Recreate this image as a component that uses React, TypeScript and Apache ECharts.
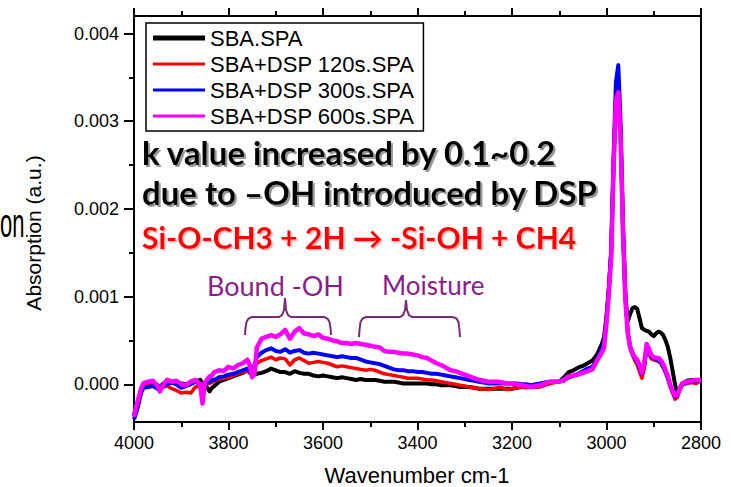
import React, { useEffect, useRef } from 'react';
import * as echarts from 'echarts';

// Wavenumber grid (cm-1) in three stretches
const wnA = [4000, 3995, 3990, 3985, 3980, 3970, 3960, 3950, 3945, 3940, 3930, 3920, 3910, 3900, 3890, 3880, 3870, 3860, 3855, 3850, 3840, 3835, 3830, 3820, 3810, 3800, 3790, 3780, 3770, 3760, 3755, 3750, 3745, 3740, 3730, 3720, 3710, 3700];
const wnB = [3690, 3680, 3670, 3660, 3650, 3640, 3630, 3620, 3610, 3600,
  3590, 3580, 3570, 3560, 3550, 3540, 3530, 3520, 3510, 3500,
  3490, 3480, 3470, 3460, 3450, 3440, 3430, 3420, 3410, 3400,
  3390, 3380, 3370, 3360, 3350, 3340, 3330, 3320, 3310, 3300,
  3290, 3280, 3270, 3260, 3250, 3240, 3230, 3220, 3210, 3200,
  3190, 3180, 3170, 3160, 3150, 3140, 3130, 3120, 3110, 3100];
const wnC = [3090, 3080, 3070, 3060, 3050, 3040, 3030, 3020, 3010,
  3005, 3000, 2995, 2990, 2985, 2980, 2975, 2970, 2965, 2960,
  2955, 2950, 2945, 2940, 2935, 2930, 2925, 2920, 2915, 2910,
  2905, 2900, 2895, 2890, 2885, 2880, 2875, 2870, 2865, 2860,
  2855, 2850, 2845, 2840, 2830, 2820, 2810, 2800];

// Absorption values, in units of 0.001 a.u.
const blackA = [-0.35, -0.27, -0.17, -0.07, -0.02, 0.00, 0.01, -0.01, -0.04, 0.00, 0.03, 0.02, 0.02, 0.01, 0.00, 0.02, 0.03, 0.05, 0.01, 0.00, -0.08, -0.04, -0.02, 0.03, 0.05, 0.07, 0.09, 0.11, 0.13, 0.16, 0.13, 0.12, 0.11, 0.12, 0.13, 0.15, 0.18, 0.16];
const redA = [-0.33, -0.25, -0.15, -0.06, -0.02, 0.00, 0.00, -0.03, -0.06, -0.03, -0.02, -0.05, -0.07, -0.10, -0.09, -0.10, -0.03, -0.02, 0.00, 0.00, 0.01, 0.02, 0.04, 0.06, 0.07, 0.08, 0.10, 0.12, 0.14, 0.15, 0.13, 0.12, 0.18, 0.24, 0.27, 0.29, 0.31, 0.28];
const blueA = [-0.40, -0.32, -0.22, -0.10, -0.04, -0.03, -0.02, -0.05, -0.08, -0.03, 0.00, 0.02, 0.00, -0.04, -0.02, 0.00, 0.03, 0.00, -0.02, 0.00, 0.03, 0.05, 0.05, 0.08, 0.09, 0.11, 0.12, 0.14, 0.16, 0.18, 0.14, 0.12, 0.22, 0.31, 0.36, 0.39, 0.41, 0.38];
const magentaA = [-0.37, -0.25, -0.15, -0.05, 0.01, 0.03, 0.04, -0.02, -0.08, -0.02, 0.05, 0.03, 0.04, 0.00, -0.01, 0.03, 0.05, 0.00, -0.22, 0.02, 0.09, 0.10, 0.14, 0.16, 0.15, 0.20, 0.18, 0.22, 0.24, 0.28, 0.22, 0.08, 0.12, 0.42, 0.52, 0.54, 0.56, 0.54];

const blackB = [0.14, 0.14, 0.12, 0.15, 0.13, 0.12, 0.12, 0.10, 0.09, 0.10,
  0.09, 0.08, 0.07, 0.08, 0.07, 0.06, 0.05, 0.06, 0.05, 0.05,
  0.05, 0.04, 0.03, 0.03, 0.03, 0.02, 0.01, 0.01, 0.01, 0.01,
  0.01, 0.01, 0.00, 0.00, -0.01, -0.01, -0.01, -0.02, -0.03, -0.03,
  -0.03, -0.04, -0.05, -0.05, -0.05, -0.05, -0.05, -0.05, -0.05, -0.05,
  -0.04, -0.03, -0.03, -0.03, -0.03, -0.02, 0.00, 0.01, 0.03, 0.03];
const redB = [0.30, 0.29, 0.22, 0.28, 0.30, 0.27, 0.24, 0.25, 0.26, 0.25,
  0.24, 0.22, 0.20, 0.21, 0.20, 0.19, 0.18, 0.17, 0.16, 0.17,
  0.16, 0.14, 0.12, 0.11, 0.10, 0.09, 0.08, 0.07, 0.07, 0.07,
  0.06, 0.05, 0.05, 0.04, 0.03, 0.02, 0.01, 0.00, -0.01, -0.02,
  -0.03, -0.04, -0.05, -0.05, -0.06, -0.05, -0.04, -0.04, -0.06, -0.05,
  -0.04, -0.03, -0.04, -0.03, -0.03, -0.03, -0.01, 0.01, 0.02, 0.03];
const blueB = [0.37, 0.40, 0.36, 0.38, 0.39, 0.36, 0.35, 0.36, 0.35, 0.34,
  0.33, 0.32, 0.31, 0.32, 0.31, 0.30, 0.30, 0.28, 0.26, 0.25,
  0.24, 0.23, 0.21, 0.19, 0.17, 0.16, 0.16, 0.15, 0.15, 0.14,
  0.14, 0.13, 0.12, 0.12, 0.11, 0.10, 0.09, 0.08, 0.07, 0.06,
  0.05, 0.04, 0.03, 0.02, 0.01, 0.01, 0.01, 0.01, 0.01, 0.01,
  0.01, 0.00, 0.00, -0.01, 0.00, 0.01, 0.02, 0.03, 0.03, 0.03];
const magentaB = [0.57, 0.62, 0.52, 0.60, 0.64, 0.58, 0.57, 0.55, 0.57, 0.53,
  0.52, 0.50, 0.49, 0.47, 0.47, 0.46, 0.47, 0.46, 0.45, 0.44,
  0.43, 0.42, 0.38, 0.37, 0.37, 0.36, 0.35, 0.35, 0.34, 0.33,
  0.31, 0.30, 0.27, 0.24, 0.22, 0.19, 0.16, 0.15, 0.13, 0.11,
  0.09, 0.07, 0.05, 0.04, 0.03, 0.03, 0.03, 0.02, 0.01, 0.01,
  0.00, -0.01, -0.02, -0.03, -0.02, -0.01, 0.01, 0.03, 0.03, 0.03];

const blackC = [0.08, 0.14, 0.16, 0.19, 0.21, 0.24, 0.27, 0.34, 0.46,
  0.54, 0.78, 1.10, 1.50, 2.50, 3.25, 3.35, 2.80, 1.75, 1.00,
  0.72, 0.80, 0.87, 0.88, 0.86, 0.75, 0.64, 0.62, 0.61, 0.60,
  0.57, 0.55, 0.58, 0.60, 0.59, 0.56, 0.50, 0.42, 0.30, 0.15,
  0.00, -0.12, -0.05, 0.00, 0.04, 0.05, 0.05, 0.05];
const redC = [0.04, 0.08, 0.10, 0.12, 0.14, 0.17, 0.19, 0.27, 0.39,
  0.46, 0.72, 1.08, 1.50, 2.55, 3.35, 3.50, 2.85, 1.75, 0.98,
  0.58, 0.41, 0.33, 0.27, 0.22, 0.14, 0.07, 0.18, 0.40, 0.34,
  0.29, 0.28, 0.27, 0.26, 0.24, 0.19, 0.13, 0.06, -0.03, -0.10,
  -0.17, -0.15, -0.07, -0.01, 0.01, 0.02, 0.01, 0.04];
const blueC = [0.05, 0.08, 0.10, 0.12, 0.15, 0.18, 0.20, 0.28, 0.40,
  0.48, 0.75, 1.10, 1.55, 2.60, 3.45, 3.64, 2.95, 1.80, 1.00,
  0.60, 0.43, 0.36, 0.30, 0.26, 0.19, 0.12, 0.22, 0.43, 0.37,
  0.31, 0.30, 0.28, 0.27, 0.25, 0.20, 0.14, 0.07, -0.02, -0.08,
  -0.14, -0.12, -0.05, 0.00, 0.02, 0.03, 0.04, 0.05];
const magentaC = [0.05, 0.09, 0.10, 0.11, 0.13, 0.15, 0.17, 0.27, 0.36,
  0.42, 0.70, 1.04, 1.45, 2.48, 3.24, 3.33, 2.78, 1.72, 0.96,
  0.58, 0.42, 0.35, 0.31, 0.28, 0.22, 0.13, 0.25, 0.46, 0.40,
  0.33, 0.31, 0.30, 0.30, 0.27, 0.23, 0.16, 0.09, -0.01, -0.07,
  -0.13, -0.12, -0.05, 0.01, 0.03, 0.04, 0.05, 0.05];

const wavenumbers = [...wnA, ...wnB, ...wnC];
const seriesNames = ['SBA.SPA', 'SBA+DSP 120s.SPA', 'SBA+DSP 300s.SPA', 'SBA+DSP 600s.SPA'];
const seriesValues = [
  [...blackA, ...blackB, ...blackC],
  [...redA, ...redB, ...redC],
  [...blueA, ...blueB, ...blueC],
  [...magentaA, ...magentaB, ...magentaC],
];
const seriesColors = ['#000000', '#ff0000', '#0000ff', '#ff00ff'];
const seriesWidths = [4, 3.5, 4, 4.5];

const yMajorTicks = [0, 0.001, 0.002, 0.003, 0.004];
const yMinorTicks = [0.0005, 0.0015, 0.0025, 0.0035];

const noteLine1 = 'k value increased by 0.1~0.2';
const noteLine2 = 'due to \u2013OH introduced by DSP';
const noteLine3 = 'Si-O-CH3 + 2H \u2192 -Si-OH + CH4';
const boundLabel = 'Bound -OH';
const moistureLabel = 'Moisture';

const FONT = '"Liberation Sans", Arial, sans-serif';
const GILL = 'Lato, "Noto Sans", sans-serif';

function brace(x0: number, x1: number, xm: number, yLine: number, yTip: number, yEnd: number) {
  return [
    [x0, yEnd], [x0 + 0.5, yEnd - 7], [x0 + 1.5, yLine + 5], [x0 + 3.5, yLine + 1.5], [x0 + 7, yLine],
    [xm - 6, yLine], [xm - 3, yLine - 2], [xm - 1, yLine - 7], [xm, yTip],
    [xm + 1, yLine - 7], [xm + 3, yLine - 2], [xm + 6, yLine],
    [x1 - 7, yLine], [x1 - 3.5, yLine + 1.5], [x1 - 1.5, yLine + 5], [x1 - 0.5, yEnd - 7], [x1, yEnd],
  ];
}

export default function App() {
  const ref = useRef<HTMLDivElement>(null);
  useEffect(() => {
    if (!ref.current) return;
    const chart = echarts.init(ref.current, null, { renderer: 'svg' });
    const axisLineStyle = { color: '#000', width: 2 };
    const xCommon = {
      type: 'value', min: 2800, max: 4000, interval: 200, inverse: true,
      axisLine: { show: true, onZero: false, lineStyle: axisLineStyle },
      axisTick: { show: true, inside: false, length: 8, lineStyle: axisLineStyle },
      minorTick: { show: true, splitNumber: 2, length: 5, lineStyle: axisLineStyle },
      splitLine: { show: false }, minorSplitLine: { show: false },
    };
    const option: any = {
      animation: false,
      backgroundColor: '#ffffff',
      grid: [
        { left: 134, right: 30, top: 16, bottom: 65, show: true, borderColor: '#000', borderWidth: 2, backgroundColor: 'transparent' },
        { left: 134, right: 30, top: 16, bottom: 65 },
      ],
      xAxis: [
        { ...xCommon, gridIndex: 0, position: 'bottom',
          axisLabel: { show: true, margin: 12, color: '#000', fontSize: 18, fontFamily: FONT, formatter: (v: number) => String(v) } },
        { ...xCommon, gridIndex: 0, position: 'top', axisLabel: { show: false } },
        { type: 'value', gridIndex: 1, min: 2800, max: 4000, inverse: true, show: false },
      ],
      yAxis: [
        { type: 'value', gridIndex: 0, position: 'left', min: -0.00043, max: 0.0042,
          axisLine: { show: true, onZero: false, lineStyle: axisLineStyle },
          axisTick: { show: true, length: 10, customValues: yMajorTicks, lineStyle: axisLineStyle },
          axisLabel: { show: true, customValues: yMajorTicks, formatter: (v: number) => v.toFixed(3),
            margin: 15, color: '#000', fontSize: 18, fontFamily: FONT },
          splitLine: { show: false } },
        { type: 'value', gridIndex: 1, position: 'left', min: -0.00043, max: 0.0042,
          axisLine: { show: false },
          axisTick: { show: true, length: 5, customValues: yMinorTicks, lineStyle: axisLineStyle },
          axisLabel: { show: false }, splitLine: { show: false } },
      ],
      legend: {
        orient: 'vertical', left: 146, top: 23,
        padding: [4, 9, 4, 7],
        itemWidth: 52, itemHeight: 5, itemGap: 4,
        borderColor: '#000', borderWidth: 1.5,
        selectedMode: false,
        textStyle: { color: '#000', fontSize: 22, fontFamily: FONT, lineHeight: 22 },
        data: seriesNames.map((name, i) => ({
          name,
          icon: i === 0 ? 'rect' : 'path://M0,0H52V3H0Z',
          itemStyle: { color: seriesColors[i] },
        })),
      },
      series: seriesNames.map((name, i) => ({
        name, type: 'line', xAxisIndex: 0, yAxisIndex: 0,
        data: wavenumbers.map((w, k) => [w, seriesValues[i][k] * 0.001]),
        symbol: 'none', showSymbol: false,
        lineStyle: { color: seriesColors[i], width: seriesWidths[i], join: 'round' },
        itemStyle: { color: seriesColors[i] },
        z: 2 + i,
      })),
      graphic: [
        { type: 'text', x: 0, y: 223, scaleX: 0.55,
          style: { text: 'on', fill: '#000', fontSize: 40, fontFamily: FONT, align: 'left', verticalAlign: 'middle' } },
        { type: 'text', x: 33, y: 233, rotation: Math.PI / 2,
          style: { text: 'Absorption (a.u.)', fill: '#000', fontSize: 21, fontFamily: FONT, align: 'center', verticalAlign: 'middle' } },
        { type: 'text', x: 417, y: 475,
          style: { text: 'Wavenumber cm-1', fill: '#000', fontSize: 22, fontFamily: FONT, align: 'center', verticalAlign: 'middle' } },
        { type: 'text', x: 142, y: 152, z: 20,
          style: { text: noteLine1, fill: '#000', fontSize: 33, fontWeight: 'bold', fontFamily: GILL, align: 'left', verticalAlign: 'middle',
            textShadowColor: '#999', textShadowOffsetX: 2, textShadowOffsetY: 2, textShadowBlur: 0.5 } },
        { type: 'text', x: 142, y: 192, z: 20,
          style: { text: noteLine2, fill: '#000', fontSize: 33, fontWeight: 'bold', fontFamily: GILL, align: 'left', verticalAlign: 'middle',
            textShadowColor: '#999', textShadowOffsetX: 2, textShadowOffsetY: 2, textShadowBlur: 0.5 } },
        { type: 'text', x: 142, y: 237, z: 20,
          style: { text: noteLine3, fill: '#ff0000', fontSize: 30, fontWeight: 'bold', fontFamily: GILL, align: 'left', verticalAlign: 'middle',
            textShadowColor: '#ffb0b0', textShadowOffsetX: 1.5, textShadowOffsetY: 1.5, textShadowBlur: 0.5 } },
        { type: 'text', x: 207, y: 285, z: 20,
          style: { text: boundLabel, fill: '#8b1c8b', fontSize: 27, fontFamily: GILL, align: 'left', verticalAlign: 'middle' } },
        { type: 'text', x: 382, y: 285, z: 20,
          style: { text: moistureLabel, fill: '#8b1c8b', fontSize: 26, fontFamily: GILL, align: 'left', verticalAlign: 'middle' } },
        { type: 'polyline', z: 20, shape: { points: brace(245, 331, 285, 317, 298, 335) },
          style: { stroke: '#7a2a7a', lineWidth: 2, fill: null } },
        { type: 'polyline', z: 20, shape: { points: brace(359, 460, 406, 317, 300, 337) },
          style: { stroke: '#7a2a7a', lineWidth: 2, fill: null } },
      ],
    };
    chart.setOption(option);
    return () => chart.dispose();
  }, []);
  return <div ref={ref} style={{ position: 'fixed', left: 0, top: 0, width: 731, height: 487 }} />;
}
